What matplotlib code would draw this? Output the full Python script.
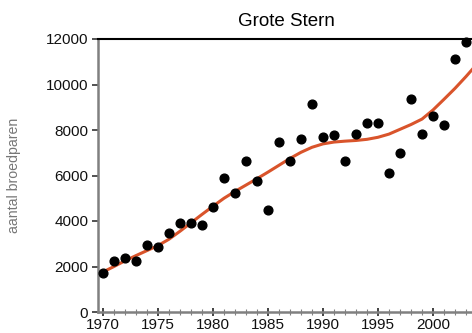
import numpy as np
import matplotlib.pyplot as plt
from matplotlib.ticker import MultipleLocator

# waarnemingen (aantal broedparen per jaar)
years = np.arange(1970, 2004)
counts = [1710, 2240, 2370, 2240, 2950, 2860, 3470, 3910, 3910, 3820,
          4620, 5890, 5230, 6640, 5760, 4480, 7470, 6640, 7600, 9140,
          7690, 7780, 6640, 7820, 8310, 8310, 6110, 6990, 9360, 7820,
          8620, 8220, 11120, 11850]

trend_years = np.arange(1970, 2005)
trend = [1760, 2000, 2250, 2480, 2700, 2920, 3200, 3550, 3920, 4290,
         4650, 5000, 5300, 5580, 5860, 6150, 6450, 6750, 7020, 7240,
         7390, 7470, 7510, 7540, 7590, 7680, 7820, 8030, 8240, 8480,
         8880, 9350, 9830, 10350, 10900]

yticks = [0, 2000, 4000, 6000, 8000, 10000, 12000]
xticks = [1970, 1975, 1980, 1985, 1990, 1995, 2000]

plt.rcParams["font.family"] = ["Liberation Sans", "DejaVu Sans"]

fig = plt.figure(figsize=(4.72, 3.33), dpi=100)
W, H = 472, 333
left, right, bottom, top = 98, 480, 312, 39
ax = fig.add_axes([left / W, (H - bottom) / H, (right - left) / W, (bottom - top) / H])

ax.plot(trend_years, trend, color="#d9542b", lw=2.2, zorder=2)
ax.plot(years, counts, "o", color="black", ms=6.3, zorder=3, clip_on=False)

ax.set_xlim(1970 - 5 / 11, 1970 + (right - 103) / 11)
ax.set_ylim(0, 12000)
ax.set_xticks(xticks)
ax.xaxis.set_minor_locator(MultipleLocator(1))
ax.set_yticks(yticks)
ax.set_yticklabels([str(v) for v in yticks])

ax.spines["right"].set_visible(False)
ax.spines["top"].set_color("black")
ax.spines["top"].set_linewidth(1.5)
for s in ("left", "bottom"):
    ax.spines[s].set_color("#808080")
    ax.spines[s].set_linewidth(1.8)

ax.tick_params(axis="y", direction="out", length=4, width=1.2, colors="#333333",
               labelsize=11, labelcolor="#111111", pad=3)
ax.tick_params(axis="x", which="major", direction="inout", length=6, width=1.2,
               colors="#222222", labelsize=11, labelcolor="#111111", pad=1)
ax.tick_params(axis="x", which="minor", direction="inout", length=4, width=0.8,
               colors="#808080")

ax.set_ylabel("aantal broedparen", fontsize=10.2, color="#777777")
ax.yaxis.set_label_coords(-(left - 21) / (right - left), 0.5)
fig.text(286 / W, 1 - 22 / H, "Grote Stern", ha="center", va="center", fontsize=13.5)

fig.savefig("out.png", dpi=100)
plt.close(fig)
